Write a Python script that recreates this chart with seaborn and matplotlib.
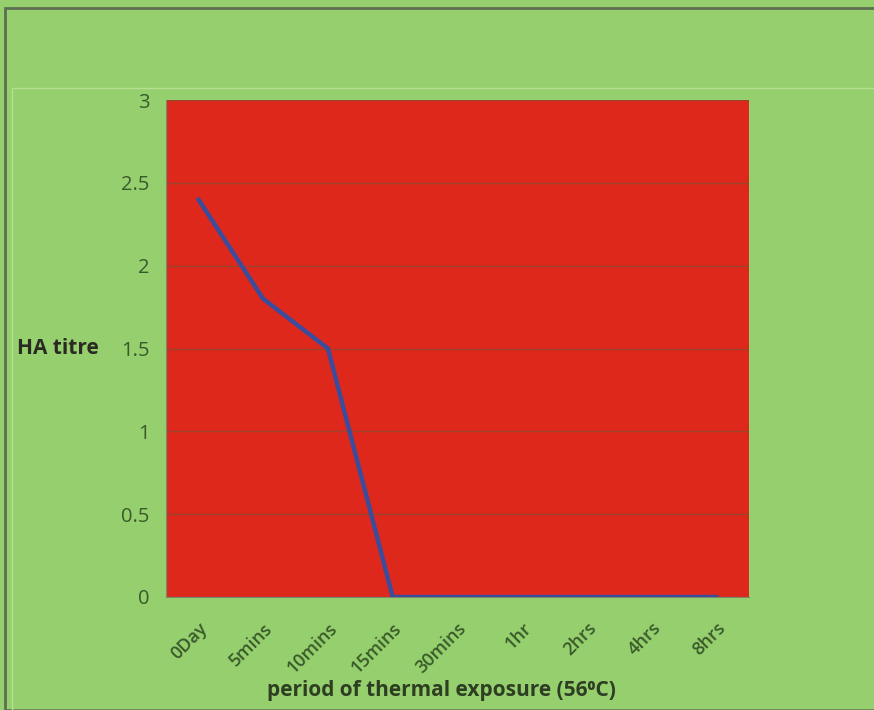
import matplotlib
matplotlib.use("Agg")
import matplotlib.pyplot as plt
from matplotlib.patches import Rectangle
import seaborn as sns
import pandas as pd

# data
periods = ["0Day", "5mins", "10mins", "15mins", "30mins", "1hr", "2hrs", "4hrs", "8hrs"]
ha_titre = [2.4, 1.8, 1.5, 0, 0, 0, 0, 0, 0]
y_ticks = [0, 0.5, 1, 1.5, 2, 2.5, 3]
y_tick_labels = ["0", "0.5", "1", "1.5", "2", "2.5", "3"]

sns.set_style("white")
plt.rcParams["font.family"] = ["Open Sans", "DejaVu Sans"]

green = "#95cf6e"
red = "#de281c"
text_dark = "#3a5a2a"

fig = plt.figure(figsize=(8.74, 7.10), dpi=100, facecolor=green)
ax = fig.add_axes([166 / 874, 1 - 597 / 710, 583 / 874, 497 / 710])
ax.set_facecolor(red)

df = pd.DataFrame({"period": periods, "titre": ha_titre})
sns.lineplot(data=df, x="period", y="titre", sort=False, color="#3b4c9c",
             linewidth=3.2, ax=ax, zorder=3)

ax.set_xlim(-0.5, len(periods) - 0.5)
ax.set_ylim(0, 3)
ax.set_yticks(y_ticks)
ax.set_yticklabels(y_tick_labels)
ax.grid(axis="y", color="#8a4a30", linewidth=1.0, alpha=0.8)
ax.grid(axis="x", visible=False)
ax.set_axisbelow(True)

ax.set_xticks(range(len(periods)))
ax.set_xticklabels(periods, rotation=45, ha="right", rotation_mode="anchor",
                   fontweight="semibold")
ax.set_xticks([i - 0.5 for i in range(len(periods) + 1)], minor=True)
ax.tick_params(axis="x", which="major", length=0, pad=16, labelsize=13,
               labelcolor=text_dark)
ax.tick_params(axis="x", which="minor", length=6, color="#7a8a6a", width=1)
ax.tick_params(axis="y", length=6, color="#7a8a6a", width=1, labelsize=14.5,
               labelcolor=text_dark, pad=6)

for side in ["top", "right"]:
    ax.spines[side].set_visible(False)
ax.spines["left"].set_color("#7a8a6a")
ax.spines["bottom"].set_color("#7a8a6a")

ax.set_xlabel("period of thermal exposure (56\u2070C)", fontsize=15,
              fontweight="bold", color="#2e3e22")
ax.xaxis.set_label_coords(0.473, -0.168)
ax.set_ylabel("HA titre", rotation=0, fontsize=15, fontweight="bold",
              color="#2a2a22", ha="right", va="center")
ax.yaxis.set_label_coords(-0.115, 0.5)

# outer chart frame
fig.patches.append(Rectangle((5 / 874, 0), 1, 1 - 8 / 710, transform=fig.transFigure,
                             fill=False, edgecolor="#5e6e50", linewidth=2))
fig.patches.append(Rectangle((12 / 874, 0), 1, 1 - 88 / 710, transform=fig.transFigure,
                             fill=False, edgecolor="#b4e090", linewidth=1))

fig.savefig("out.png", dpi=100, facecolor=green)
